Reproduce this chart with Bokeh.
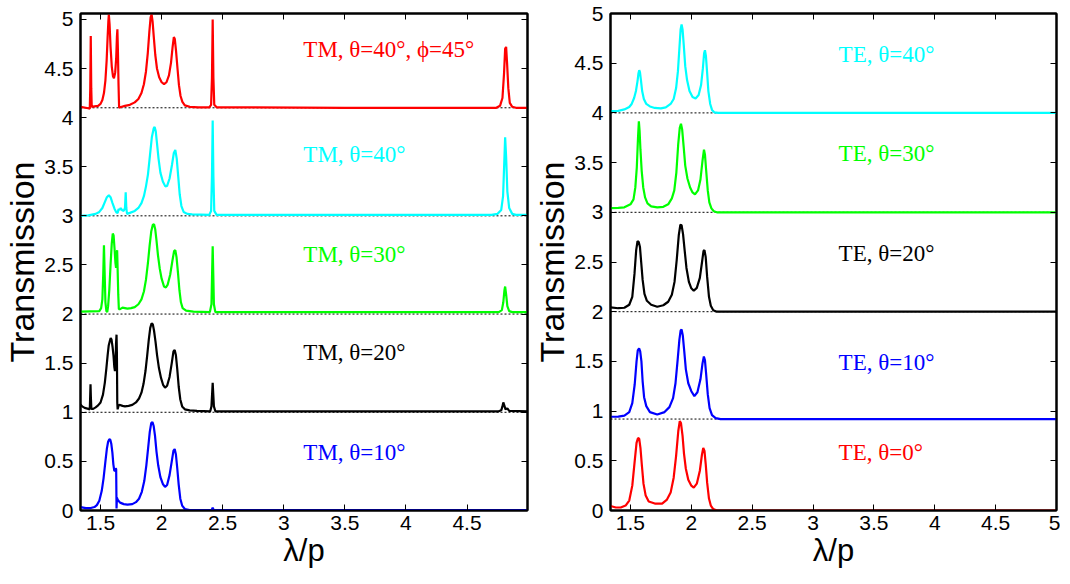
from bokeh.plotting import figure
from bokeh.layouts import row
from bokeh.models import Range1d, FixedTicker, LinearAxis, Label, CustomJSTickFormatter
from bokeh.embed import file_html
from bokeh.resources import INLINE

# ---------------- data ----------------
# Left panel: TM polarisation, curves offset vertically
tm_phi_x = [1.336, 1.40, 1.412, 1.416, 1.42, 1.424, 1.428, 1.45, 1.48, 1.50, 1.515, 1.528, 1.54, 1.55, 1.558,
            1.564, 1.568, 1.574, 1.582, 1.592, 1.602, 1.61, 1.62, 1.628, 1.634, 1.638, 1.642, 1.647, 1.652,
            1.66, 1.70, 1.74, 1.78, 1.81, 1.835, 1.855, 1.872, 1.887, 1.90, 1.91, 1.918, 1.926, 1.936, 1.948,
            1.962, 1.98, 2.0, 2.02, 2.04, 2.06, 2.077, 2.09, 2.1, 2.108, 2.118, 2.13, 2.142, 2.155, 2.17,
            2.19, 2.23, 2.30, 2.39, 2.405, 2.412, 2.418, 2.424, 2.431, 2.45, 3.5, 4.74, 4.77, 4.79, 4.803,
            4.812, 4.82, 4.828, 4.838, 4.85, 4.87, 4.9, 5.0]
tm_phi_y = [4.11, 4.095, 4.09, 4.3, 4.83, 4.3, 4.11, 4.115, 4.12, 4.14, 4.18, 4.25, 4.38, 4.58, 4.82,
            4.98, 5.05, 4.95, 4.72, 4.52, 4.42, 4.40, 4.46, 4.6, 4.82, 4.9, 4.7, 4.35, 4.1,
            4.105, 4.12, 4.13, 4.155, 4.19, 4.25, 4.34, 4.47, 4.66, 4.88, 5.02, 5.05, 4.98, 4.82, 4.64,
            4.5, 4.41, 4.36, 4.34, 4.36, 4.43, 4.56, 4.72, 4.82, 4.8, 4.68, 4.5, 4.33, 4.22, 4.16,
            4.125, 4.11, 4.105, 4.105, 4.13, 4.4, 5.0, 4.4, 4.13, 4.105, 4.10, 4.10, 4.12, 4.2, 4.45,
            4.7, 4.72, 4.55, 4.3, 4.15, 4.11, 4.10, 4.10]

tm40_x = [1.336, 1.40, 1.46, 1.49, 1.515, 1.535, 1.552, 1.568, 1.582, 1.598, 1.615, 1.63, 1.64, 1.648,
          1.656, 1.665, 1.675, 1.69, 1.70, 1.706, 1.711, 1.717, 1.74, 1.78, 1.81, 1.835, 1.855, 1.872,
          1.888, 1.905, 1.92, 1.935, 1.943, 1.952, 1.962, 1.975, 1.99, 2.01, 2.03, 2.045, 2.065, 2.085,
          2.1, 2.112, 2.124, 2.136, 2.148, 2.162, 2.18, 2.21, 2.25, 2.39, 2.405, 2.412, 2.418, 2.424,
          2.431, 2.45, 4.70, 4.75, 4.78, 4.795, 4.805, 4.812, 4.82, 4.83, 4.845, 4.87, 4.9, 5.0]
tm40_y = [3.0, 3.005, 3.02, 3.04, 3.08, 3.14, 3.19, 3.21, 3.19, 3.13, 3.07, 3.035, 3.03, 3.07,
          3.06, 3.08, 3.06, 3.05, 3.08, 3.24, 3.08, 3.02, 3.03, 3.05, 3.08, 3.13, 3.2, 3.3,
          3.42, 3.62, 3.80, 3.89, 3.905, 3.86, 3.74, 3.58, 3.44, 3.35, 3.30, 3.305, 3.38, 3.52,
          3.64, 3.67, 3.58, 3.40, 3.22, 3.10, 3.04, 3.02, 3.015, 3.01, 3.05, 3.4, 3.97, 3.4,
          3.05, 3.01, 3.01, 3.02, 3.06, 3.2, 3.55, 3.80, 3.6, 3.25, 3.08, 3.02, 3.01, 3.01]

tm30_x = [1.336, 1.49, 1.505, 1.515, 1.522, 1.528, 1.534, 1.54, 1.548, 1.555, 1.562, 1.572, 1.582, 1.592,
          1.6, 1.607, 1.615, 1.622, 1.627, 1.632, 1.636, 1.64, 1.645, 1.65, 1.66, 1.68, 1.70, 1.72, 1.75,
          1.78, 1.81, 1.835, 1.855, 1.872, 1.888, 1.902, 1.915, 1.928, 1.938, 1.948, 1.958, 1.97, 1.985,
          2.0, 2.02, 2.035, 2.05, 2.07, 2.088, 2.102, 2.112, 2.122, 2.134, 2.146, 2.158, 2.172, 2.2,
          2.26, 2.395, 2.408, 2.413, 2.418, 2.423, 2.428, 2.44, 4.76, 4.785, 4.797, 4.806, 4.812, 4.82,
          4.83, 4.845, 4.87, 5.0]
tm30_y = [2.025, 2.03, 2.06, 2.15, 2.40, 2.70, 2.40, 2.12, 2.03, 2.02, 2.08, 2.25, 2.50, 2.72,
          2.82, 2.80, 2.66, 2.52, 2.47, 2.62, 2.65, 2.45, 2.2, 2.05, 2.05, 2.065, 2.06, 2.055, 2.06,
          2.07, 2.10, 2.15, 2.23, 2.35, 2.52, 2.7, 2.84, 2.91, 2.915, 2.86, 2.75, 2.6, 2.46,
          2.36, 2.28, 2.27, 2.3, 2.4, 2.54, 2.64, 2.65, 2.58, 2.42, 2.24, 2.12, 2.06, 2.035,
          2.025, 2.02, 2.1, 2.4, 2.69, 2.4, 2.1, 2.02, 2.02, 2.04, 2.12, 2.24, 2.28, 2.2,
          2.08, 2.03, 2.02, 2.02]

tm20_x = [1.336, 1.35, 1.37, 1.40, 1.412, 1.415, 1.418, 1.421, 1.425, 1.44, 1.46, 1.48, 1.5, 1.52,
          1.535, 1.548, 1.558, 1.567, 1.575, 1.583, 1.59, 1.598, 1.606, 1.613, 1.618, 1.623, 1.627,
          1.631, 1.634, 1.637, 1.64, 1.648, 1.66, 1.68, 1.70, 1.73, 1.76, 1.79, 1.815, 1.835, 1.852,
          1.868, 1.882, 1.895, 1.907, 1.918, 1.928, 1.938, 1.95, 1.963, 1.978, 1.995, 2.012, 2.028,
          2.045, 2.065, 2.083, 2.097, 2.107, 2.117, 2.128, 2.14, 2.153, 2.168, 2.19, 2.23, 2.29, 2.398,
          2.408, 2.413, 2.418, 2.423, 2.428, 2.44, 4.76, 4.78, 4.79, 4.797, 4.805, 4.815, 4.83, 4.845, 5.0]
tm20_y = [1.08, 1.06, 1.045, 1.035, 1.03, 1.15, 1.285, 1.15, 1.035, 1.035, 1.05, 1.07, 1.10, 1.18,
          1.30, 1.45, 1.58, 1.68, 1.72, 1.755, 1.74, 1.67, 1.58, 1.46, 1.42, 1.5, 1.7,
          1.79, 1.6, 1.1, 1.03, 1.07, 1.075, 1.065, 1.06, 1.065, 1.075, 1.10, 1.14, 1.2, 1.29,
          1.42, 1.58, 1.74, 1.86, 1.905, 1.895, 1.83, 1.72, 1.58, 1.45, 1.35, 1.28, 1.25,
          1.27, 1.36, 1.5, 1.62, 1.635, 1.58, 1.44, 1.26, 1.13, 1.06, 1.03, 1.02, 1.015, 1.01,
          1.06, 1.18, 1.30, 1.18, 1.06, 1.01, 1.01, 1.02, 1.06, 1.10, 1.07, 1.03, 1.04, 1.015, 1.01]

tm10_x = [1.336, 1.38, 1.42, 1.45, 1.47, 1.49, 1.51, 1.525, 1.54, 1.552, 1.562, 1.572, 1.58, 1.588,
          1.597, 1.605, 1.612, 1.618, 1.624, 1.628, 1.631, 1.634, 1.64, 1.66, 1.69, 1.72, 1.76, 1.79,
          1.815, 1.838, 1.858, 1.875, 1.89, 1.903, 1.915, 1.925, 1.935, 1.946, 1.958, 1.972, 1.99,
          2.01, 2.028, 2.045, 2.065, 2.083, 2.097, 2.107, 2.117, 2.128, 2.14, 2.153, 2.168, 2.19,
          2.23, 2.41, 2.418, 2.426, 5.0]
tm10_y = [0.035, 0.025, 0.025, 0.035, 0.055, 0.10, 0.2, 0.33, 0.5, 0.63, 0.7, 0.725, 0.72, 0.68,
          0.59, 0.47, 0.41, 0.40, 0.43, 0.42, 0.02, 0.13, 0.11, 0.08, 0.065, 0.06, 0.065, 0.085,
          0.12, 0.19, 0.3, 0.46, 0.64, 0.8, 0.89, 0.9, 0.86, 0.76, 0.6, 0.46, 0.34,
          0.27, 0.24, 0.26, 0.36, 0.5, 0.61, 0.625, 0.57, 0.43, 0.26, 0.12, 0.05, 0.015,
          0.005, 0.005, 0.03, 0.005, 0.005]

tm_baselines = [1.0, 2.0, 3.0, 4.1]

# Right panel: TE polarisation
te40_x = [1.336, 1.40, 1.45, 1.49, 1.51, 1.53, 1.545, 1.558, 1.566, 1.572, 1.578, 1.586, 1.596, 1.61,
          1.63, 1.66, 1.70, 1.75, 1.79, 1.83, 1.855, 1.875, 1.89, 1.902, 1.912, 1.92, 1.928, 1.938,
          1.95, 1.965, 1.985, 2.01, 2.035, 2.06, 2.08, 2.095, 2.105, 2.112, 2.12, 2.13, 2.14, 2.155,
          2.17, 2.19, 2.22, 5.0]
te40_y = [4.017, 4.02, 4.035, 4.06, 4.09, 4.15, 4.22, 4.32, 4.40, 4.43, 4.41, 4.33, 4.22, 4.14,
          4.09, 4.065, 4.05, 4.045, 4.055, 4.09, 4.14, 4.25, 4.42, 4.65, 4.84, 4.89, 4.84, 4.68,
          4.47, 4.33, 4.22, 4.16, 4.145, 4.18, 4.28, 4.45, 4.60, 4.63, 4.57, 4.40, 4.22, 4.09,
          4.03, 4.005, 4.0, 4.0]

te30_x = [1.336, 1.40, 1.45, 1.50, 1.525, 1.54, 1.552, 1.562, 1.569, 1.575, 1.582, 1.592, 1.605, 1.62,
          1.64, 1.67, 1.72, 1.77, 1.81, 1.84, 1.86, 1.877, 1.892, 1.905, 1.915, 1.925, 1.937, 1.95,
          1.968, 1.99, 2.01, 2.03, 2.055, 2.075, 2.092, 2.104, 2.112, 2.122, 2.135, 2.148, 2.165,
          2.185, 2.21, 5.0]
te30_y = [3.043, 3.045, 3.05, 3.08, 3.13, 3.25, 3.45, 3.75, 3.915, 3.82, 3.63, 3.42, 3.25, 3.15,
          3.09, 3.06, 3.05, 3.055, 3.08, 3.14, 3.22, 3.40, 3.68, 3.85, 3.89, 3.83, 3.66, 3.47,
          3.34, 3.25, 3.2, 3.18, 3.22, 3.33, 3.52, 3.63, 3.58, 3.42, 3.22, 3.1, 3.04,
          3.01, 3.0, 3.0]

te20_x = [1.336, 1.40, 1.45, 1.49, 1.515, 1.533, 1.547, 1.558, 1.568, 1.578, 1.588, 1.60, 1.615, 1.635,
          1.67, 1.72, 1.77, 1.81, 1.84, 1.862, 1.88, 1.897, 1.91, 1.92, 1.932, 1.945, 1.96, 1.98,
          2.0, 2.02, 2.045, 2.07, 2.088, 2.1, 2.108, 2.118, 2.13, 2.145, 2.16, 2.18, 2.21, 5.0]
te20_y = [2.043, 2.035, 2.04, 2.07, 2.15, 2.38, 2.62, 2.71, 2.70, 2.65, 2.50, 2.32, 2.18, 2.11,
          2.07, 2.05, 2.065, 2.10, 2.17, 2.30, 2.52, 2.77, 2.875, 2.87, 2.78, 2.62, 2.44, 2.30,
          2.235, 2.21, 2.24, 2.34, 2.50, 2.61, 2.62, 2.55, 2.35, 2.15, 2.06, 2.015, 2.0, 2.0]

te10_x = [1.336, 1.40, 1.45, 1.49, 1.515, 1.535, 1.55, 1.56, 1.571, 1.58, 1.59, 1.60, 1.612, 1.63,
          1.66, 1.72, 1.78, 1.82, 1.85, 1.87, 1.888, 1.902, 1.912, 1.92, 1.93, 1.942, 1.955, 1.975,
          2.0, 2.025, 2.05, 2.075, 2.092, 2.103, 2.112, 2.122, 2.135, 2.15, 2.17, 2.2, 2.24, 5.0]
te10_y = [0.943, 0.945, 0.955, 0.99, 1.08, 1.27, 1.50, 1.61, 1.63, 1.60, 1.50, 1.30, 1.14, 1.05,
          0.99, 0.965, 0.99, 1.04, 1.13, 1.28, 1.52, 1.72, 1.81, 1.82, 1.76, 1.6, 1.42, 1.28,
          1.2, 1.15, 1.19, 1.32, 1.48, 1.55, 1.51, 1.37, 1.17, 1.03, 0.96, 0.93, 0.92, 0.92]

te0_x = [1.336, 1.38, 1.42, 1.46, 1.49, 1.515, 1.535, 1.55, 1.562, 1.572, 1.582, 1.594, 1.607, 1.625,
         1.65, 1.70, 1.76, 1.80, 1.83, 1.855, 1.875, 1.893, 1.905, 1.915, 1.928, 1.94, 1.955, 1.975,
         2.0, 2.02, 2.045, 2.07, 2.087, 2.098, 2.108, 2.118, 2.13, 2.145, 2.16, 2.18, 2.21, 5.0]
te0_y = [0.045, 0.03, 0.03, 0.05, 0.10, 0.25, 0.50, 0.68, 0.73, 0.72, 0.63, 0.45, 0.27, 0.15,
         0.09, 0.07, 0.07, 0.11, 0.18, 0.33, 0.55, 0.80, 0.90, 0.88, 0.75, 0.57, 0.42, 0.31,
         0.25, 0.23, 0.27, 0.40, 0.56, 0.63, 0.6, 0.47, 0.28, 0.12, 0.05, 0.015, 0.0, 0.0]

te_baselines = [0.92, 2.0, 3.0, 4.0]

left_labels = ["TM, θ=40°, ϕ=45°", "TM, θ=40°", "TM, θ=30°", "TM, θ=20°", "TM, θ=10°"]
left_label_y = [4.69, 3.62, 2.61, 1.61, 0.59]
right_labels = ["TE, θ=40°", "TE, θ=30°", "TE, θ=20°", "TE, θ=10°", "TE, θ=0°"]
right_label_y = [4.59, 3.59, 2.59, 1.49, 0.58]
colors = ["#ff0000", "#00ffff", "#00ff00", "#000000", "#0000ff"]
right_colors = ["#00ffff", "#00ff00", "#000000", "#0000ff", "#ff0000"]

x_ticks_left = [1.5, 2, 2.5, 3, 3.5, 4, 4.5]
x_ticks_right = [1.5, 2, 2.5, 3, 3.5, 4, 4.5, 5]
y_ticks = [0, 0.5, 1, 1.5, 2, 2.5, 3, 3.5, 4, 4.5, 5]

FMT = "return String(Math.round(tick*10)/10);"
SANS = "Liberation Sans"
SERIF = "Liberation Serif"


def style_axes(p, xt, yt):
    for ax in p.xaxis + p.yaxis:
        ax.major_tick_in = 6
        ax.major_tick_out = 0
        ax.minor_tick_line_color = None
        ax.axis_line_color = "black"
        ax.axis_line_width = 2
        ax.major_tick_line_width = 1
        ax.major_label_text_font = SANS
        ax.major_label_text_font_size = "21px"
        ax.major_label_text_color = "black"
        ax.axis_label_text_font = SANS
        ax.axis_label_text_font_style = "normal"
        ax.axis_label_text_color = "black"
    p.xaxis.ticker = FixedTicker(ticks=xt)
    p.yaxis.ticker = FixedTicker(ticks=yt)
    p.xaxis.formatter = CustomJSTickFormatter(code=FMT)
    p.yaxis.formatter = CustomJSTickFormatter(code=FMT)
    p.xaxis.major_label_standoff = 5
    p.yaxis.major_label_standoff = 7
    p.xaxis.axis_label = "λ/p"
    p.yaxis.axis_label = "Transmission"
    p.xaxis.axis_label_text_font_size = "31px"
    p.yaxis.axis_label_text_font_size = "34px"
    p.xaxis.axis_label_standoff = 0
    p.yaxis.axis_label_standoff = 0
    # box ticks on top and right
    top = LinearAxis(ticker=FixedTicker(ticks=xt), formatter=CustomJSTickFormatter(code="return '';"),
                     major_tick_in=6, major_tick_out=0, minor_tick_line_color=None,
                     axis_line_width=2, major_label_text_font_size="0px", major_label_standoff=0)
    right = LinearAxis(ticker=FixedTicker(ticks=yt), formatter=CustomJSTickFormatter(code="return '';"),
                       major_tick_in=6, major_tick_out=0, minor_tick_line_color=None,
                       axis_line_width=2, major_label_text_font_size="0px", major_label_standoff=0)
    p.add_layout(top, "above")
    p.add_layout(right, "right")
    p.xgrid.grid_line_color = None
    p.ygrid.grid_line_color = None
    p.outline_line_color = "black"
    p.outline_line_width = 2


def make_fig(width, x_end, y_end, bl, bt, bb, br):
    p = figure(width=width, height=576, x_range=Range1d(1.336, x_end), y_range=Range1d(0, y_end),
               output_backend="svg", toolbar_location=None,
               min_border_left=bl, min_border_top=bt, min_border_bottom=bb, min_border_right=br)
    p.background_fill_color = "white"
    p.border_fill_color = "white"
    return p


LW = 2.2

# ---------------- left panel ----------------
pl = make_fig(530, 4.995, 5.06, 80, 11, 64, 3)
for b in tm_baselines:
    pl.line([1.336, 5.0], [b, b], line_color="black", line_width=1, line_dash="2 2")
for xs, ys, c in zip([tm_phi_x, tm40_x, tm30_x, tm20_x, tm10_x],
                     [tm_phi_y, tm40_y, tm30_y, tm20_y, tm10_y], colors):
    pl.line(xs, ys, line_color=c, line_width=LW)
for t, y, c in zip(left_labels, left_label_y, colors):
    pl.add_layout(Label(x=3.16, y=y, text=t, text_color=c, text_font=SERIF, text_font_size="23px",
                        text_align="left", text_baseline="middle"))
style_axes(pl, x_ticks_left, y_ticks)

# ---------------- right panel ----------------
pr = make_fig(530, 5.0, 5.0, 78, 13, 66, 4)
for b in te_baselines:
    pr.line([1.336, 5.0], [b, b], line_color="black", line_width=1, line_dash="2 2")
for xs, ys, c in zip([te40_x, te30_x, te20_x, te10_x, te0_x],
                     [te40_y, te30_y, te20_y, te10_y, te0_y], right_colors):
    pr.line(xs, ys, line_color=c, line_width=LW)
for t, y, c in zip(right_labels, right_label_y, right_colors):
    pr.add_layout(Label(x=3.21, y=y, text=t, text_color=c, text_font=SERIF, text_font_size="23px",
                        text_align="left", text_baseline="middle"))
style_axes(pr, x_ticks_right, y_ticks)

layout = row(pl, pr, spacing=0)
open("out.html", "w").write(file_html(layout, INLINE))
